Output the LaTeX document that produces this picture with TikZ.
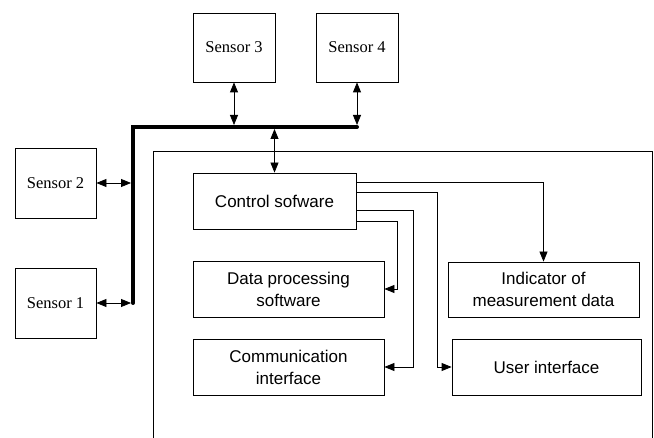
\documentclass[tikz,border=0pt]{standalone}
\usepackage{fontspec}
\setmainfont{Liberation Serif}
\newfontfamily\arialfont{Liberation Sans}
\usetikzlibrary{arrows.meta, calc}

\begin{document}
\begin{tikzpicture}[x=1pt, y=-1pt,
    line width=0.8pt,
    >={Triangle[length=10pt,width=8pt]},
    sensor/.style={draw, inner sep=0pt, minimum width=82pt, minimum height=69pt,
        font=\fontsize{16.5}{20}\selectfont},
    block/.style={draw, inner sep=0pt, minimum width=191pt, minimum height=56pt,
        align=center, font=\arialfont\fontsize{17}{22}\selectfont},
    bus/.style={line width=4pt}]
        \useasboundingbox (0,0) rectangle (654,438);

        % sensors
        \node[sensor] (s3) at (234, 47.5) {Sensor 3};
        \node[sensor] (s4) at (357, 47.5) {Sensor 4};
        \node[sensor, minimum width=81pt, minimum height=70pt] (s2) at (55.5, 183) {Sensor 2};
        \node[sensor, minimum width=81pt, minimum height=70pt] (s1) at (55.5, 303) {Sensor 1};

        % bus
        \coordinate (busL) at (133, 127);
        \coordinate (busR) at (357, 127);
        \coordinate (busB) at (133, 303);
        \draw[bus, line cap=round] (busR) -- (busL) -- (busB);

        % device frame (cut at the bottom)
        \draw (153, 438) -- (153, 151) -- (652, 151) -- (652, 438);

        % blocks
        \node[block, minimum width=163pt] (ctrl) at (274.5, 201) {Control sofware};
        \node[block] (dproc) at (288.5, 289) {Data processing\\software};
        \node[block] (comm) at (288.5, 367) {Communication\\interface};
        \node[block, minimum height=55pt] (ind) at (543.5, 289.5) {Indicator of\\measurement data};
        \node[block, minimum width=189pt] (ui) at (546.5, 367) {User interface};

        % sensor links
        \draw[<->, shorten >=2pt] (s2.east) -- (s2.east -| busL);
        \draw[<->, shorten >=2pt] (s1.east) -- (s1.east -| busL);
        \draw[<->, shorten >=2pt] (s3.south) -- (s3.south |- busL);
        \draw[<->, shorten >=2pt] (s4.south) -- (busR);
        \draw[<->, shorten <=2pt] (ctrl.north |- busL) -- (ctrl.north);

        % control links
        \draw[->] ($(ctrl.north east)+(0,10)$) -| (ind.north);
        \draw[->] ($(ctrl.north east)+(0,20)$) -- ++(81,0) |- (ui.west);
        \draw[->] ($(ctrl.north east)+(0,38)$) -- ++(57,0) |- (comm.east);
        \draw[->] ($(ctrl.north east)+(0,49)$) -- ++(41,0) |- (dproc.east);

    \end{tikzpicture}
\end{document}
